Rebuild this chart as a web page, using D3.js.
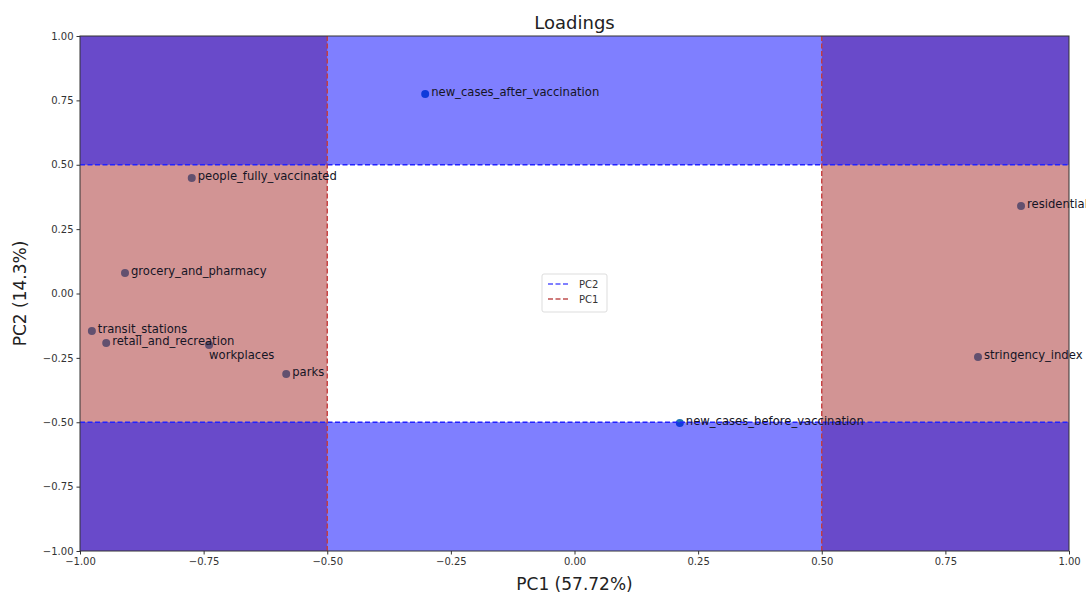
<!DOCTYPE html>
<html><head><meta charset="utf-8">
<script src="https://cdn.jsdelivr.net/npm/d3@7"></script>
<style>body{margin:0;background:#fff}svg text{font-family:"DejaVu Sans",sans-serif}</style>
</head><body><svg id="c" width="1086" height="594"></svg>
<script>
const features = ["new_cases_after_vaccination","people_fully_vaccinated","grocery_and_pharmacy","transit_stations","retail_and_recreation","workplaces","parks","new_cases_before_vaccination","residential","stringency_index"];
const pc1 = [-0.302,-0.774,-0.909,-0.976,-0.947,-0.739,-0.583,0.213,0.903,0.816];
const pc2 = [0.775,0.449,0.080,-0.146,-0.192,-0.200,-0.313,-0.503,0.340,-0.247];
const ticks = [-1,-0.75,-0.5,-0.25,0,0.25,0.5,0.75,1];
const thresholds = [-0.5,0.5];

const svg = d3.select("#c");
const L=80,R=1069,T=36,B=551;
const x = d3.scaleLinear().domain([-1,1]).range([L,R]);
const y = d3.scaleLinear().domain([-1,1]).range([B,T]);
const g = svg.append("g");

const data = features.map((f,i)=>({f,a:pc1[i],b:pc2[i]}));
// points (drawn under translucent spans)
g.selectAll("circle.p").data(data).enter().append("circle")
 .attr("cx",d=>x(d.a)).attr("cy",d=>y(d.b)).attr("r",4)
 .attr("fill","#1f77b4");

// vertical spans (brown, alpha .5)
[[-1,-0.5],[0.5,1]].forEach(s=>{
  g.append("rect").attr("x",x(s[0])).attr("width",x(s[1])-x(s[0])).attr("y",T).attr("height",B-T)
   .attr("fill","#a52a2a").attr("fill-opacity",0.5);
});
// horizontal spans (blue, alpha .5)
[[0.5,1],[-1,-0.5]].forEach(s=>{
  g.append("rect").attr("x",L).attr("width",R-L).attr("y",y(s[1])).attr("height",y(s[0])-y(s[1]))
   .attr("fill","#0000ff").attr("fill-opacity",0.5);
});
// dashed lines
thresholds.forEach(t=>{
  g.append("line").attr("x1",x(-1)).attr("x2",x(1)).attr("y1",y(t)).attr("y2",y(t))
   .attr("stroke","#2222ff").attr("stroke-width",1.4).attr("stroke-dasharray","5,2.5");
  g.append("line").attr("y1",y(-1)).attr("y2",y(1)).attr("x1",x(t)).attr("x2",x(t))
   .attr("stroke","#c43c3c").attr("stroke-width",1.4).attr("stroke-dasharray","5,2.5");
});
g.selectAll("text.l").data(data).enter().append("text")
 .attr("x",d=>d.f==="workplaces"? x(d.a):x(d.a)+6)
 .attr("y",d=>d.f==="workplaces"? y(d.b)+14:y(d.b)+2)
 .attr("font-size",11.6).attr("fill","#151525").text(d=>d.f);

// frame
svg.append("rect").attr("x",L).attr("y",T).attr("width",R-L).attr("height",B-T)
 .attr("fill","none").attr("stroke","#333").attr("stroke-width",1);
// axes
const fmt=d3.format(".2f");
const fmtS = v => (v<0?"\u2212":"")+fmt(Math.abs(v));
const xa = svg.append("g").attr("transform",`translate(0,${B})`)
 .call(d3.axisBottom(x).tickValues(ticks).tickFormat(fmtS).tickSize(3.5).tickPadding(3));
const ya = svg.append("g").attr("transform",`translate(${L},0)`)
 .call(d3.axisLeft(y).tickValues(ticks).tickFormat(fmtS).tickSize(3.5).tickPadding(3));
[xa,ya].forEach(a=>{a.select(".domain").remove();a.selectAll("text").attr("font-size",10).attr("fill","#333").attr("font-family","DejaVu Sans");a.selectAll("line").attr("stroke","#333");});

svg.append("text").attr("x",(L+R)/2).attr("y",29).attr("text-anchor","middle").attr("font-size",18).attr("fill","#222").text("Loadings");
svg.append("text").attr("x",(L+R)/2).attr("y",590).attr("text-anchor","middle").attr("font-size",17).attr("fill","#222").text("PC1 (57.72%)");
svg.append("text").attr("transform",`translate(26,${(T+B)/2}) rotate(-90)`).attr("text-anchor","middle").attr("font-size",17).attr("fill","#222").text("PC2 (14.3%)");

// legend
const lg = svg.append("g").attr("transform","translate(542,274)");
lg.append("rect").attr("width",65).attr("height",38).attr("rx",2).attr("fill","#fff").attr("stroke","#ddd");
[["PC2","#5555ff"],["PC1","#c05050"]].forEach((d,i)=>{
  lg.append("line").attr("x1",6).attr("x2",28).attr("y1",10+i*15).attr("y2",10+i*15)
   .attr("stroke",d[1]).attr("stroke-width",1.4).attr("stroke-dasharray","5,2.5");
  lg.append("text").attr("x",37).attr("y",14+i*15).attr("font-size",10).attr("fill","#333").text(d[0]);
});
</script></body></html>
